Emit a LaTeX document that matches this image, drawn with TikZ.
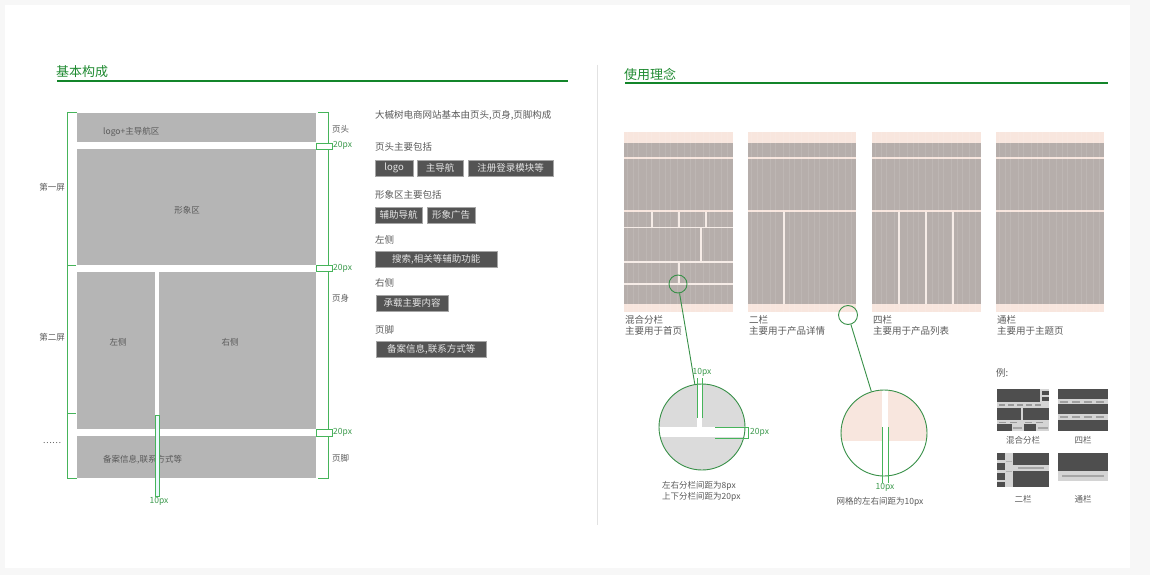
\documentclass[tikz,border=0pt]{standalone}
\usepackage{fontspec}
\setmainfont{Noto Sans CJK SC}
\definecolor{bgout}{HTML}{F7F7F7}
\definecolor{gtitle}{HTML}{1E8A30}
\definecolor{gline}{HTML}{13852A}
\definecolor{gbr}{HTML}{46B45A}
\definecolor{wfgray}{HTML}{B5B5B5}
\definecolor{txtgray}{HTML}{5A5A5A}
\definecolor{tagfill}{HTML}{545454}
\definecolor{pinkc}{HTML}{F8E6DE}
\definecolor{pgray}{HTML}{B6AEAB}
\definecolor{sepc}{HTML}{F6ECE7}
\definecolor{thdark}{HTML}{4E4E4E}
\definecolor{thlight}{HTML}{D4D4D4}
\definecolor{divc}{HTML}{E2E2E2}
\tikzset{
  titlestyle/.style={font=\fontsize{13}{15}\selectfont, text=gtitle, inner sep=0, anchor=west},
  greenrule/.style={draw=gline, line width=2pt},
  wftext/.style={font=\fontsize{8.5}{10}\selectfont, text=txtgray, inner sep=0},
  brk/.style={draw=gbr, line width=0.8pt},
  pxlabel/.style={font=\fontsize{8.5}{10}\selectfont, text=gbr!85!black, inner sep=0},
  rtext/.style={font=\fontsize{9.5}{11}\selectfont, text=txtgray, inner sep=0, anchor=west},
  tagbox/.style={fill=tagfill, draw=gray!70, line width=0.4pt, text=white!90!black, font=\fontsize{9.5}{11}\selectfont, inner sep=0, minimum height=16pt, anchor=north west},
  caption/.style={font=\fontsize{9.5}{11.5}\selectfont, text=txtgray, inner sep=0, anchor=north west, align=left},
  smalltext/.style={font=\fontsize{8.5}{11}\selectfont, text=txtgray, inner sep=0},
  ring/.style={circle, draw=gbr!80!black, line width=0.9pt, inner sep=0},
  sepline/.style={draw=sepc, line width=1.6pt},
}
\begin{document}
\begin{tikzpicture}[x=1pt,y=-1pt]
\useasboundingbox (0,0) rectangle (1150,575);
\fill[bgout] (0,0) rectangle (1150,575);
\fill[white] (5,5) rectangle (1130,568);

% ---------- titles ----------
\node[titlestyle] (title1) at (56,72) {基本构成};
\draw[greenrule] (57,81.5) -- (568,81.5);
\node[titlestyle] (title2) at (624,74) {使用理念};
\draw[greenrule] (625,83.5) -- (1108,83.5);
\draw[divc, line width=0.8pt] (597,65) -- (597,525);

% ---------- left wireframe ----------
\fill[wfgray] (77,113) rectangle (316,142);
\fill[wfgray] (77,149) rectangle (316,265);
\fill[wfgray] (77,272) rectangle (155,429);
\fill[wfgray] (159,272) rectangle (316,429);
\fill[wfgray] (77,436) rectangle (316,478);
\node[wftext, anchor=west] (hdr) at (103,132) {logo+主导航区};
\node[wftext] (img) at (187,210) {形象区};
\node[wftext] (lcol) at (118,342) {左侧};
\node[wftext] (rcol) at (230,342) {右侧};
\node[wftext, anchor=west] (ftr) at (103,460) {备案信息,联系方式等};

% left brackets
\draw[brk] (77,112.5) -- (67,112.5) -- (67,478) -- (77,478);
\draw[brk] (67,265) -- (76,265);
\draw[brk] (67,413) -- (76,413);
\node[wftext] (s1) at (52,187) {第一屏};
\node[wftext] (s2) at (52,337) {第二屏};
\node[wftext] (s3) at (52,443) {……};

% right brackets
\draw[brk] (318,112.5) -- (328,112.5) -- (328,143);
\draw[brk] (316,143) rectangle (332,149);
\draw[brk] (328,149) -- (328,265);
\draw[brk] (316,265) rectangle (332,271);
\draw[brk] (328,271) -- (328,429);
\draw[brk] (316,429) rectangle (332,436);
\draw[brk] (328,436) -- (328,478) -- (318,478);
\node[wftext, anchor=west] (lh) at (332,129) {页头};
\node[pxlabel, anchor=west] (p1) at (333,145) {20px};
\node[pxlabel, anchor=west] (p2) at (333,268) {20px};
\node[wftext, anchor=west] (lb) at (332,298) {页身};
\node[pxlabel, anchor=west] (p3) at (333,432) {20px};
\node[wftext, anchor=west] (lf) at (332,458) {页脚};
\draw[brk, fill=cyan!8] (155,415) rectangle (159,496);
\node[pxlabel] (p4) at (159,501) {10px};

% ---------- right text column ----------
\node[rtext] (intro) at (375,115) {大槭树电商网站基本由页头,页身,页脚构成};
\node[rtext] (h1) at (375,147) {页头主要包括};
\node[tagbox, minimum width=38pt] (tg1) at (375,160) {logo};
\node[tagbox, minimum width=46pt] (tg2) at (417,160) {主导航};
\node[tagbox, minimum width=85pt] (tg3) at (468,160) {注册登录模块等};
\node[rtext] (h2) at (375,195) {形象区主要包括};
\node[tagbox, minimum width=47pt] (tg4) at (375,207) {辅助导航};
\node[tagbox, minimum width=48pt] (tg5) at (427,207) {形象广告};
\node[rtext] (h3) at (375,240) {左侧};
\node[tagbox, minimum width=122pt] (tg6) at (375,251) {搜索,相关等辅助功能};
\node[rtext] (h4) at (375,283) {右侧};
\node[tagbox, minimum width=72pt] (tg7) at (376,295) {承载主要内容};
\node[rtext] (h5) at (375,330) {页脚};
\node[tagbox, minimum width=110pt] (tg8) at (376,341) {备案信息,联系方式等};

% ---------- grid panels ----------
\foreach \xa/\xb in {624/733, 748/856, 872/981, 996/1104}{
  \fill[pinkc] (\xa,132) rectangle (\xb,312);
  \fill[pgray] (\xa,142.5) rectangle (\xb,157);
  \fill[pgray] (\xa,159) rectangle (\xb,210);
  \fill[pgray] (\xa,212) rectangle (\xb,303.5);
  \foreach \k in {3,9,14,22,27,35,41,46,53,60,66,71,79,85,90,97,103}{
    \draw[white, opacity=0.1, line width=0.8pt] (\xa+\k,132) -- (\xa+\k,312);
  }
}
% panel 1 (mixed)
\draw[sepline] (624,227.5) -- (733,227.5);
\draw[sepline] (624,262) -- (733,262);
\draw[sepline] (624,284) -- (733,284);
\draw[sepline] (652,212) -- (652,227);
\draw[sepline] (679,212) -- (679,227);
\draw[sepline] (706,212) -- (706,227);
\draw[sepline] (701,228) -- (701,261);
\draw[sepline] (679,262) -- (679,284);
% panel 2
\draw[sepline] (784,212) -- (784,303.5);
% panel 3
\draw[sepline] (899,212) -- (899,303.5);
\draw[sepline] (926,212) -- (926,303.5);
\draw[sepline] (953,212) -- (953,303.5);

\node[caption] (c1) at (625,315) {混合分栏\\主要用于首页};
\node[caption] (c2) at (749,315) {二栏\\主要用于产品详情};
\node[caption] (c3) at (873,315) {四栏\\主要用于产品列表};
\node[caption] (c4) at (997,315) {通栏\\主要用于主题页};

% ---------- zoom circles ----------
\node[ring, minimum size=18pt] (sc1) at (678,284) {};
\node[ring, minimum size=19pt] (sc2) at (848,315) {};

\begin{scope}
  \clip (702,427) circle (43);
  \fill[thlight!85!white] (655,380) rectangle (750,475);
  \fill[white] (655,427) rectangle (750,437);
  \fill[white] (697,380) rectangle (702,427);
\end{scope}
\node[ring, minimum size=86pt] (bc1) at (702,427) {};
\draw[brk] (697,378) -- (697,418);
\draw[brk] (702,378) -- (702,418);
\node[pxlabel] (p5) at (702,372) {10px};
\draw[brk] (715,427) -- (748,427) -- (748,438) -- (715,438);
\node[pxlabel, anchor=west] (p6) at (750,432) {20px};
\node[smalltext, anchor=north west, align=left] (n1) at (662,481) {左右分栏间距为8px\\上下分栏间距为20px};

\begin{scope}
  \clip (884,433) circle (43);
  \fill[pinkc] (835,385) rectangle (935,441);
  \fill[white] (882,385) rectangle (888,441);
\end{scope}
\node[ring, minimum size=86pt] (bc2) at (884,433) {};
\draw[brk] (882,427) -- (882,483);
\draw[brk] (888,427) -- (888,483);
\node[pxlabel] (p7) at (885,487) {10px};
\node[smalltext] (n2) at (880,502) {网格的左右间距为10px};

\draw[draw=gbr!80!black, line width=0.9pt] (sc1) -- (bc1);
\draw[draw=gbr!80!black, line width=0.9pt] (sc2) -- (bc2);

% ---------- examples ----------
\node[rtext] (ex) at (996,373) {例:};
% thumb 1 mixed
\fill[thlight] (997,389) rectangle (1049,431);
\fill[thdark] (997,389) rectangle (1040,402);
\fill[thdark] (1042,391) rectangle (1049,395);
\fill[thdark] (1042,397) rectangle (1049,401);
\foreach \xx in {999,1008,1017,1026,1035}{\fill[gray!80] (\xx,404) rectangle (\xx+6,406);}
\fill[thdark] (997,408) rectangle (1021,420);
\fill[thdark] (1023,408) rectangle (1049,420);
\foreach \xx in {999,1010,1025,1036}{\fill[gray!80] (\xx,421.5) rectangle (\xx+7,423);}
\fill[thdark] (997,424) rectangle (1012,431);
\fill[thdark] (1024,424) rectangle (1036,431);
\fill[gray!70] (1013,427) rectangle (1022,429);
\fill[gray!70] (1038,427) rectangle (1048,429);
% thumb 2 four columns
\fill[thlight] (1058,389) rectangle (1108,431);
\fill[thdark] (1058,389) rectangle (1108,399);
\fill[thdark] (1058,404) rectangle (1108,414);
\fill[thdark] (1058,420) rectangle (1108,431);
\foreach \xx in {1060,1072,1084,1096}{
  \fill[gray!75] (\xx,400.5) rectangle (\xx+8,402.5);
  \fill[gray!75] (\xx,416) rectangle (\xx+8,418);
}
% thumb 3 two columns
\fill[thlight] (997,453) rectangle (1049,487);
\fill[thdark] (997,453) rectangle (1005,460);
\fill[thdark] (997,463) rectangle (1005,470);
\fill[thdark] (997,473) rectangle (1005,480);
\fill[thdark] (997,482) rectangle (1005,487);
\fill[thdark] (1013,453) rectangle (1049,465);
\fill[gray!70] (1018,467) rectangle (1044,469);
\fill[thdark] (1013,471) rectangle (1049,487);
\fill[gray!60] (1006,461) rectangle (1012,462);
\fill[gray!60] (1006,471) rectangle (1012,472);
% thumb 4 full width
\fill[thlight] (1058,453) rectangle (1108,481);
\fill[thdark] (1058,453) rectangle (1108,471);
\fill[gray!70] (1062,475) rectangle (1104,477);
\node[smalltext] (e1) at (1023,440) {混合分栏};
\node[smalltext] (e2) at (1083,440) {四栏};
\node[smalltext] (e3) at (1023,499) {二栏};
\node[smalltext] (e4) at (1083,499) {通栏};
\end{tikzpicture}
\end{document}
